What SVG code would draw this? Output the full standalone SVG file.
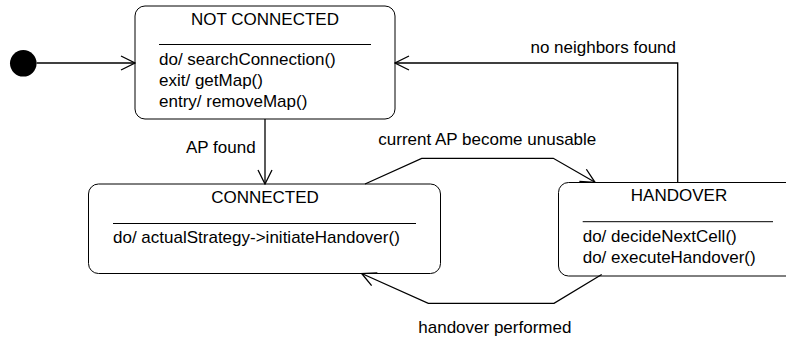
<svg xmlns="http://www.w3.org/2000/svg" width="786" height="338" viewBox="0 0 786 338">
<style>
text { font-family: "Liberation Sans", Arial, sans-serif; font-size: 17px; fill: #000; }
.state { fill: #fff; stroke: #000; stroke-width: 1; }
.sep { stroke: #000; stroke-width: 1; }
.edge { fill: none; stroke: #000; stroke-width: 1.3; }
.title { text-anchor: middle; }
</style>
<defs>
<marker id="open" viewBox="0 0 16 16" refX="15" refY="8" markerWidth="16" markerHeight="16" markerUnits="userSpaceOnUse" orient="auto">
<path d="M1,1 L15,8 L1,15" fill="none" stroke="#000" stroke-width="1.3"/>
</marker>
</defs>
<rect width="786" height="338" fill="#fff"/>
<g id="initial">
<circle cx="23.3" cy="63.3" r="13.3" fill="#000"/>
</g>
<g id="not_connected">
<rect class="state" x="135" y="6" width="260" height="113" rx="10" ry="10"/>
<text class="title" x="265" y="25">NOT CONNECTED</text>
<line class="sep" x1="159" y1="44.5" x2="371" y2="44.5"/>
<text x="159" y="65">do/ searchConnection()</text>
<text x="159" y="86">exit/ getMap()</text>
<text x="159" y="106.5">entry/ removeMap()</text>
</g>
<g id="connected">
<rect class="state" x="88.5" y="184" width="352" height="89.5" rx="10" ry="10"/>
<text class="title" x="265" y="203.3">CONNECTED</text>
<line class="sep" x1="113" y1="223.5" x2="416" y2="223.5"/>
<text x="113" y="243.3">do/ actualStrategy-&gt;initiateHandover()</text>
</g>
<g id="handover">
<rect class="state" x="558.5" y="182.5" width="240" height="93.5" rx="10" ry="10"/>
<text class="title" x="679" y="201">HANDOVER</text>
<line class="sep" x1="582.7" y1="221.7" x2="773" y2="221.7"/>
<text x="582.7" y="241.7">do/ decideNextCell()</text>
<text x="582.7" y="262.7">do/ executeHandover()</text>
</g>
<g id="connectors">
<path class="edge" d="M36.6,63 L135,63" marker-end="url(#open)"/>
<path class="edge" d="M265,119 L265,184" marker-end="url(#open)"/>
<text x="186" y="153">AP found</text>
<path class="edge" d="M677.7,182.5 L677.7,63 L395,63" marker-end="url(#open)"/>
<text x="676" y="53" text-anchor="end">no neighbors found</text>
<path class="edge" d="M365,184 L421.7,158.3 L553.3,158.3 L595,182.3" marker-end="url(#open)"/>
<text x="378.3" y="145">current AP become unusable</text>
<path class="edge" d="M601.7,274.5 L554,303.3 L428.3,303.3 L361.7,273.5" marker-end="url(#open)"/>
<text x="418.3" y="333">handover performed</text>
</g>
</svg>
